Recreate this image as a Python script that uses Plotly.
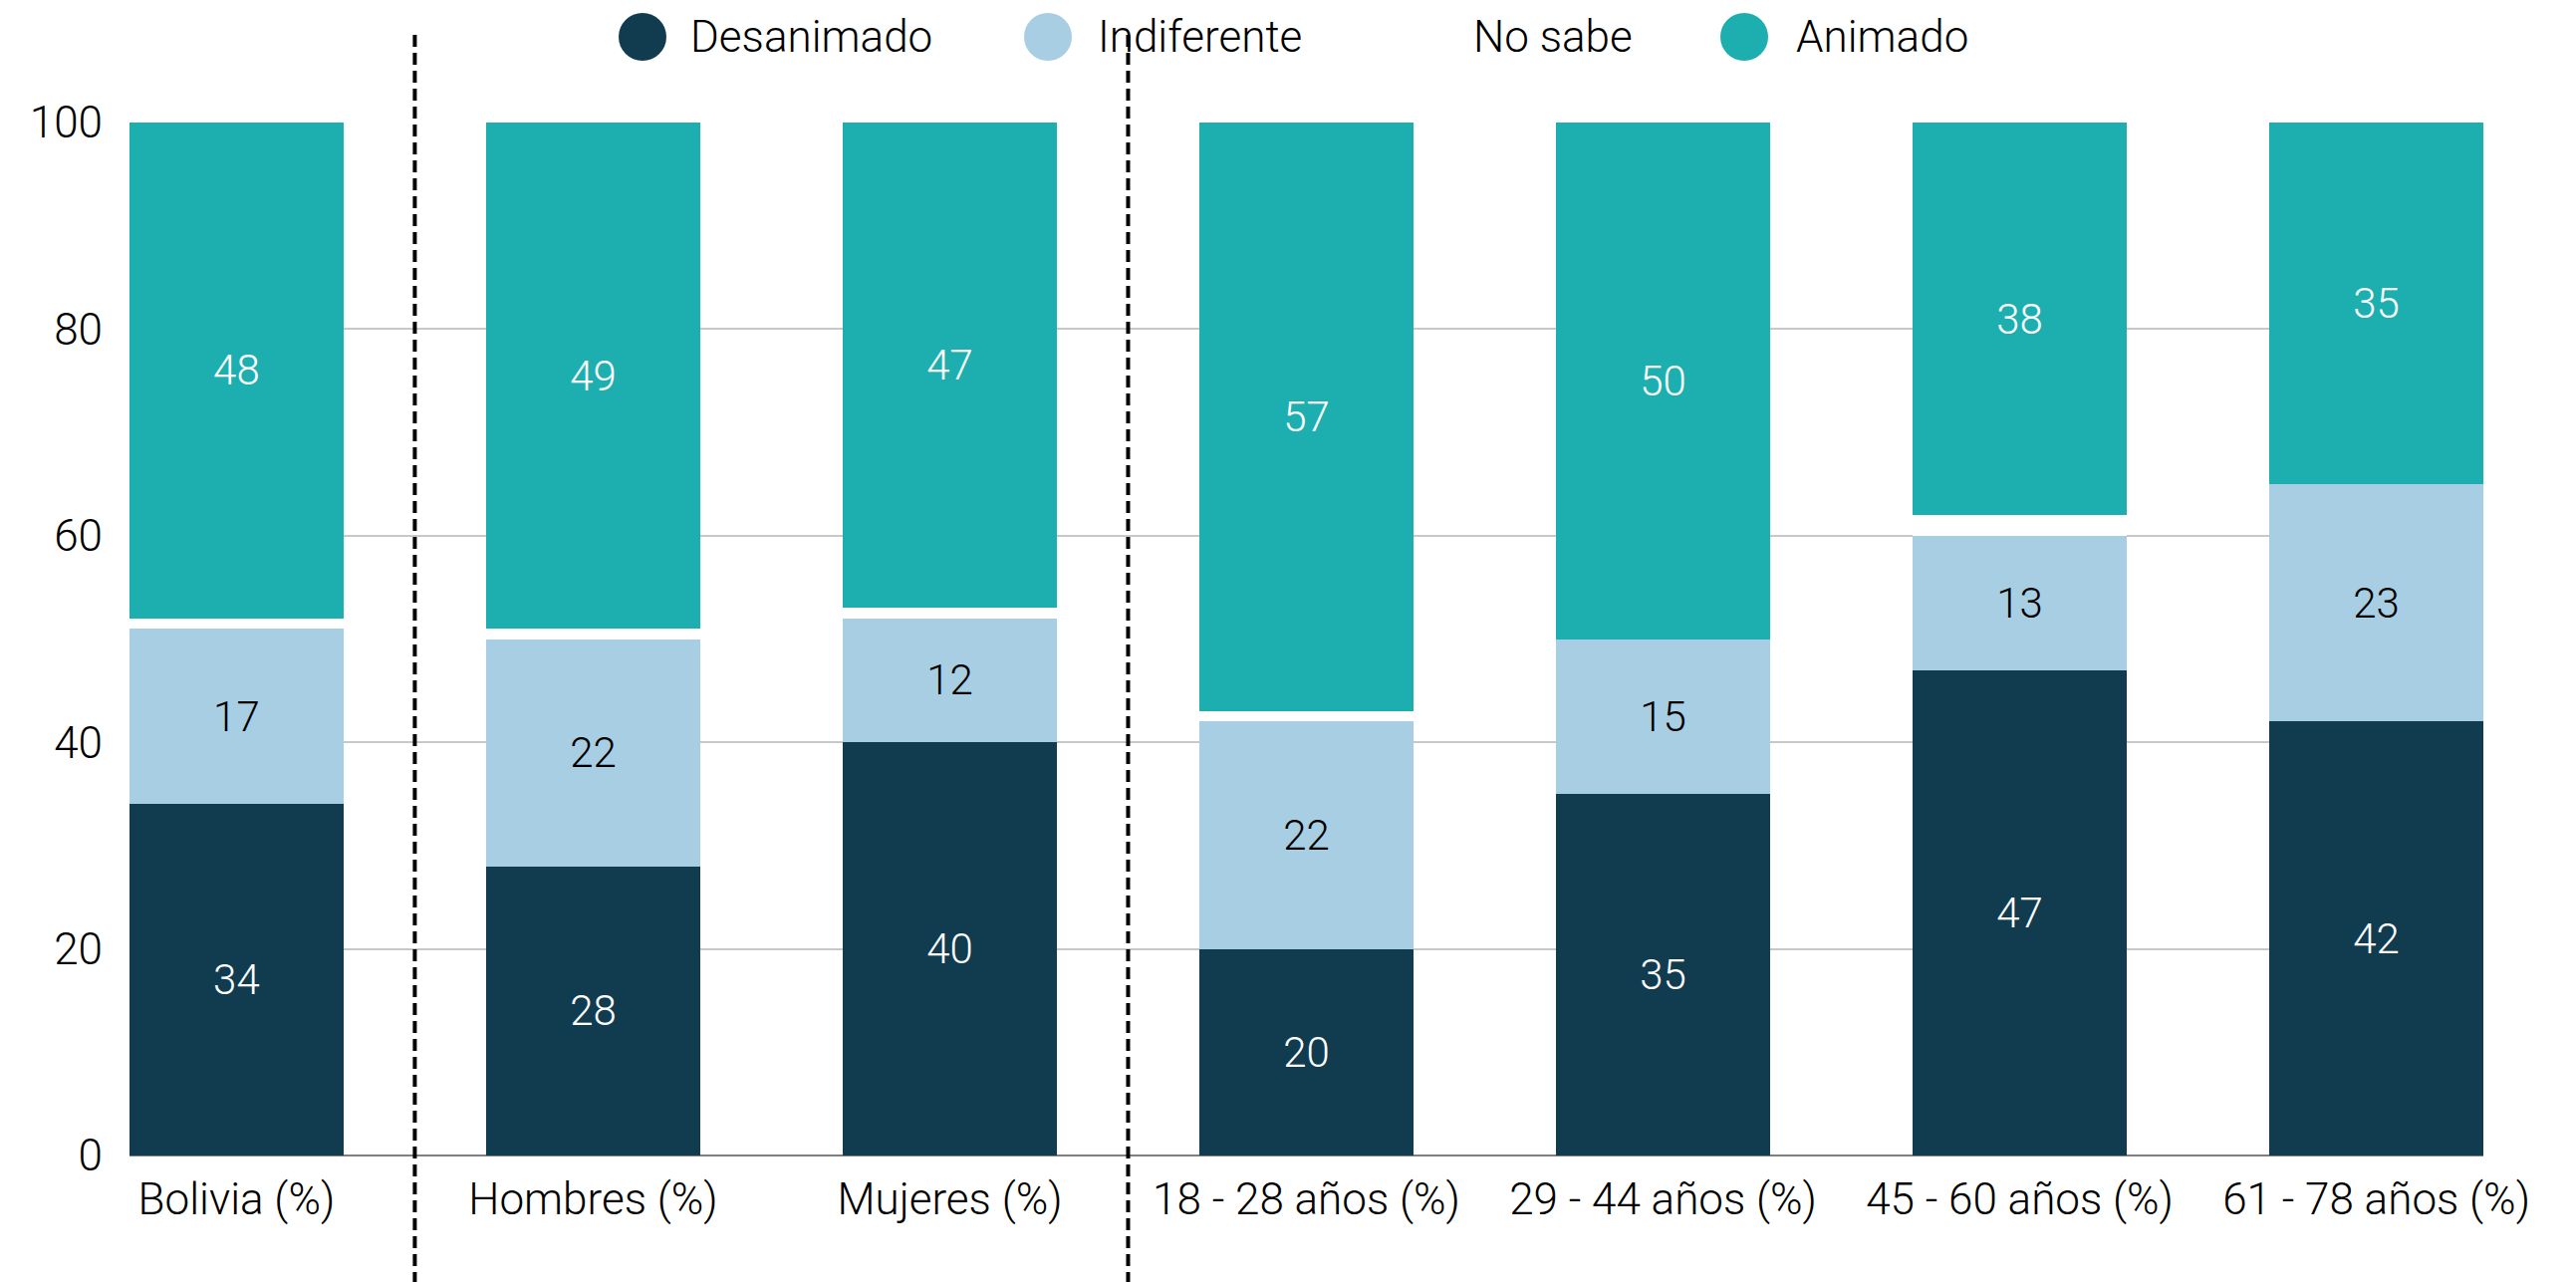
import plotly.graph_objects as go

categories = ["Bolivia (%)", "Hombres (%)", "Mujeres (%)", "18 - 28 años (%)",
              "29 - 44 años (%)", "45 - 60 años (%)", "61 - 78 años (%)"]
desanimado = [34, 28, 40, 20, 35, 47, 42]
indiferente = [17, 22, 12, 22, 15, 13, 23]
no_sabe = [1, 1, 1, 1, 0, 2, 0]
animado = [48, 49, 47, 57, 50, 38, 35]

series = [
    ("Desanimado", desanimado, "#113B4F", "white"),
    ("Indiferente", indiferente, "#A7CEE3", "black"),
    ("No sabe", no_sabe, "#FFFFFF", None),
    ("Animado", animado, "#1DAFAF", "white"),
]

W, H = 2586, 1287
OFF = 8  # page body margin offset
L, R, T, B = 130 - OFF, 93 + OFF, 123 - OFF, 127 + OFF
FONT = "Roboto, Liberation Sans, Arial, sans-serif"

fig = go.Figure()
for name, vals, color, tcolor in series:
    fig.add_trace(go.Bar(
        x=categories, y=vals, name=name,
        marker=dict(color=color, line=dict(width=0)),
        text=[str(v) for v in vals] if tcolor else None,
        texttemplate="%{text}" if tcolor else None,
        textposition="inside" if tcolor else "none",
        insidetextanchor="middle",
        textangle=0,
        constraintext="none",
        textfont=dict(color=tcolor or "black", size=42, family=FONT, weight=300),
        showlegend=False,
        hoverinfo="x+y+name",
    ))

pw = W - L - R
ph = H - T - B


def px_x(p):
    return (p - OFF - L) / pw


def px_y(p):
    return (H - B - (p - OFF)) / ph


shapes = []
# dashed separators
for xv in [0.5, 2.5]:
    shapes.append(dict(type="line", xref="x", yref="paper", x0=xv, x1=xv,
                       y0=px_y(H + 20), y1=px_y(30),
                       line=dict(color="black", width=4, dash="12px,6px")))

# manual legend
legend_items = [
    ("Desanimado", "#113B4F", 645, 691),
    ("Indiferente", "#A7CEE3", 1052, 1100),
    ("No sabe", "#FFFFFF", 1430, 1477),
    ("Animado", "#1DAFAF", 1751, 1801),
]
annotations = []
ly = px_y(37)
for name, color, cx, tx in legend_items:
    shapes.append(dict(type="circle", xref="paper", yref="paper",
                       xsizemode="pixel", ysizemode="pixel",
                       xanchor=px_x(cx), yanchor=ly,
                       x0=-24, x1=24, y0=-24, y1=24,
                       fillcolor=color, line=dict(width=0)))
    annotations.append(dict(text=name, xref="paper", yref="paper",
                            x=px_x(tx), y=ly, xanchor="left", yanchor="middle",
                            showarrow=False,
                            font=dict(size=44, family=FONT, color="black", weight=300)))

fig.update_layout(
    width=W, height=H,
    margin=dict(l=L, r=R, t=T, b=B, autoexpand=False),
    barmode="stack", bargap=0.4,
    plot_bgcolor="white", paper_bgcolor="white",
    font=dict(family=FONT, size=44, color="black", weight=300),
    shapes=shapes, annotations=annotations,
    xaxis=dict(range=[-0.3, 6.3], showgrid=False, showline=False, ticks="",
               ticklabelstandoff=14,
               tickfont=dict(size=44, family=FONT, color="black", weight=300)),
    yaxis=dict(range=[0, 100], tickvals=[0, 20, 40, 60, 80, 100],
               showgrid=True, gridcolor="#C8C8C8", gridwidth=2,
               zeroline=True, zerolinecolor="#7F7F7F", zerolinewidth=2,
               showline=False, ticks="", ticklabelstandoff=26,
               tickfont=dict(size=44, family=FONT, color="black", weight=300)),
    uniformtext=dict(mode=False),
)

fig.write_html("out.html")
